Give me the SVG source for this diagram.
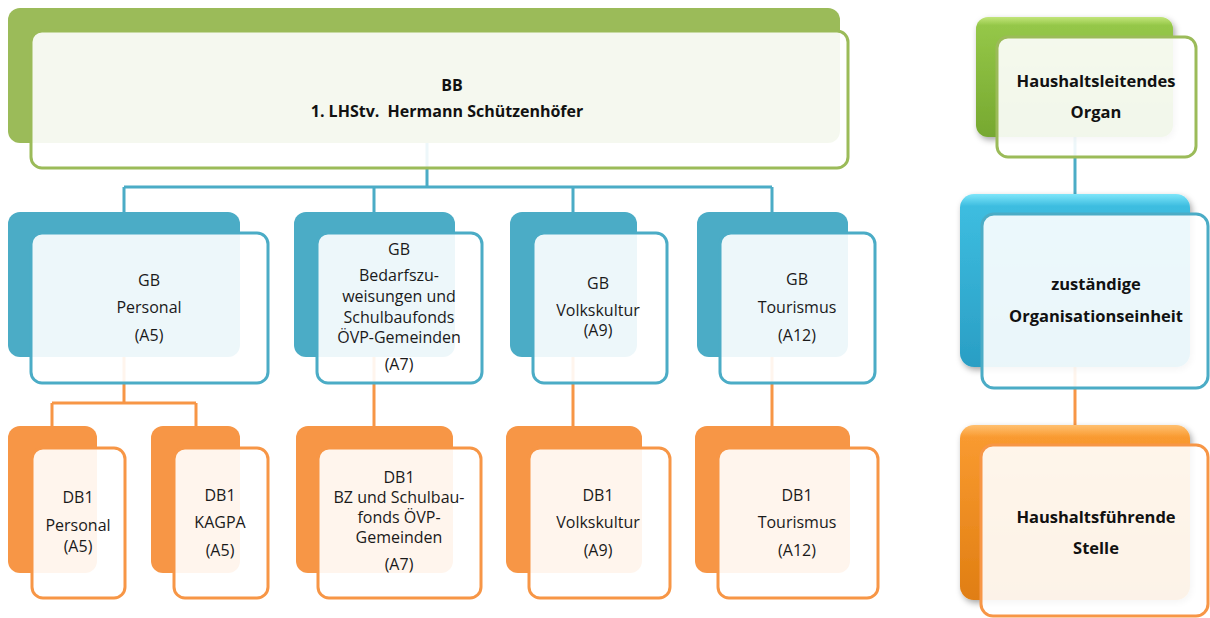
<svg xmlns="http://www.w3.org/2000/svg" width="1210" height="618" viewBox="0 0 1210 618">
<defs>
<style>
.t{font-family:"Open Sans","Liberation Sans",sans-serif;font-size:16px;fill:#1a1a1a;text-anchor:middle}
.b{font-family:"Open Sans","Liberation Sans",sans-serif;font-size:16px;font-weight:bold;fill:#111;text-anchor:middle}
.bL{font-size:16.5px}
.front{fill:#fff;fill-opacity:0.9;stroke-width:3}
.g{stroke:#9BBB59}.bl{stroke:#4BACC6}.o{stroke:#F79646}
.cb{stroke:#4BACC6;stroke-width:3;fill:none}
.co{stroke:#F79646;stroke-width:3;fill:none}
</style>
<linearGradient id="lg" x1="0" y1="0" x2="0" y2="1">
<stop offset="0" stop-color="#C2E57A"/><stop offset="0.07" stop-color="#95C748"/><stop offset="1" stop-color="#76A830"/>
</linearGradient>
<linearGradient id="lb" x1="0" y1="0" x2="0" y2="1">
<stop offset="0" stop-color="#7FE6FA"/><stop offset="0.07" stop-color="#3DBDE0"/><stop offset="1" stop-color="#2A9EC4"/>
</linearGradient>
<linearGradient id="lo" x1="0" y1="0" x2="0" y2="1">
<stop offset="0" stop-color="#FFC070"/><stop offset="0.07" stop-color="#F99A30"/><stop offset="1" stop-color="#E07E12"/>
</linearGradient>
<filter id="sh" x="-10%" y="-10%" width="125%" height="125%">
<feDropShadow dx="2" dy="3" stdDeviation="3" flood-color="#000" flood-opacity="0.35"/>
</filter>
</defs>

<g id="connectors">
<path class="cb" d="M427 143V187M124 187H772M124 187V212M374 187V212M573 187V212M772 187V212"/>
<path class="co" d="M124 357V403M52 403H196M52 403V426M196 403V426"/>
<path class="co" d="M374 357V426M573 357V426M772 357V426"/>
<path class="cb" d="M1075 137V194"/>
<path class="co" d="M1075 367V425"/>
</g>

<g id="bb">
<rect x="8" y="8" width="832" height="135" rx="12" fill="#9BBB59"/>
<rect class="front g" x="31" y="31" width="817" height="137" rx="11"/>
<text class="b" x="452" y="91">BB</text>
<text class="b" x="447" y="117" xml:space="preserve">1. LHStv.  Hermann Schützenhöfer</text>
</g>

<g id="gb-personal">
<rect x="8" y="212" width="232" height="145" rx="12" fill="#4BACC6"/>
<rect class="front bl" x="31" y="233" width="237" height="150" rx="11"/>
<text class="t" x="149" y="286">GB</text>
<text class="t" x="149" y="313">Personal</text>
<text class="t" x="149" y="341">(A5)</text>
</g>

<g id="gb-bedarf">
<rect x="294" y="212" width="161" height="145" rx="12" fill="#4BACC6"/>
<rect class="front bl" x="317" y="233" width="165" height="150" rx="11"/>
<text class="t" x="399" y="255">GB</text>
<text class="t" x="399" y="281">Bedarfszu-</text>
<text class="t" x="399" y="302">weisungen und</text>
<text class="t" x="399" y="323">Schulbaufonds</text>
<text class="t" x="399" y="343">ÖVP-Gemeinden</text>
<text class="t" x="399" y="370">(A7)</text>
</g>

<g id="gb-volkskultur">
<rect x="510" y="212" width="127" height="145" rx="12" fill="#4BACC6"/>
<rect class="front bl" x="533" y="233" width="134" height="150" rx="11"/>
<text class="t" x="598" y="289">GB</text>
<text class="t" x="598" y="316">Volkskultur</text>
<text class="t" x="598" y="336">(A9)</text>
</g>

<g id="gb-tourismus">
<rect x="697" y="212" width="151" height="145" rx="12" fill="#4BACC6"/>
<rect class="front bl" x="720" y="233" width="155" height="150" rx="11"/>
<text class="t" x="797" y="285">GB</text>
<text class="t" x="797" y="313">Tourismus</text>
<text class="t" x="797" y="341">(A12)</text>
</g>

<g id="db-personal">
<rect x="8" y="426" width="89" height="147" rx="12" fill="#F79646"/>
<rect class="front o" x="32" y="448" width="93" height="150" rx="11"/>
<text class="t" x="78" y="503">DB1</text>
<text class="t" x="78" y="531">Personal</text>
<text class="t" x="78" y="552">(A5)</text>
</g>

<g id="db-kagpa">
<rect x="151" y="426" width="89" height="147" rx="12" fill="#F79646"/>
<rect class="front o" x="174" y="448" width="94" height="150" rx="11"/>
<text class="t" x="220" y="501">DB1</text>
<text class="t" x="220" y="528">KAGPA</text>
<text class="t" x="220" y="556">(A5)</text>
</g>

<g id="db-bz">
<rect x="296" y="426" width="157" height="147" rx="12" fill="#F79646"/>
<rect class="front o" x="318" y="448" width="163" height="150" rx="11"/>
<text class="t" x="399" y="483">DB1</text>
<text class="t" x="399" y="503">BZ und Schulbau-</text>
<text class="t" x="399" y="523">fonds ÖVP-</text>
<text class="t" x="399" y="543">Gemeinden</text>
<text class="t" x="399" y="570">(A7)</text>
</g>

<g id="db-volkskultur">
<rect x="506" y="426" width="136" height="147" rx="12" fill="#F79646"/>
<rect class="front o" x="529" y="448" width="141" height="150" rx="11"/>
<text class="t" x="598" y="501">DB1</text>
<text class="t" x="598" y="528">Volkskultur</text>
<text class="t" x="598" y="556">(A9)</text>
</g>

<g id="db-tourismus">
<rect x="695" y="426" width="155" height="147" rx="12" fill="#F79646"/>
<rect class="front o" x="718" y="448" width="160" height="150" rx="11"/>
<text class="t" x="797" y="501">DB1</text>
<text class="t" x="797" y="528">Tourismus</text>
<text class="t" x="797" y="556">(A12)</text>
</g>

<g id="legend-haushaltsleitend">
<rect x="976" y="17" width="197" height="120" rx="12" fill="url(#lg)" filter="url(#sh)"/>
<rect class="front g" x="997" y="37" width="199" height="120" rx="11"/>
<text class="b bL" x="1096" y="87">Haushaltsleitendes</text>
<text class="b bL" x="1096" y="118">Organ</text>
</g>

<g id="legend-zustaendig">
<rect x="960" y="194" width="230" height="173" rx="14" fill="url(#lb)" filter="url(#sh)"/>
<rect class="front bl" x="982" y="214" width="226" height="174" rx="12"/>
<text class="b bL" x="1096" y="290">zuständige</text>
<text class="b bL" x="1096" y="322">Organisationseinheit</text>
</g>

<g id="legend-haushaltsfuehrend">
<rect x="960" y="425" width="230" height="175" rx="14" fill="url(#lo)" filter="url(#sh)"/>
<rect class="front o" x="981" y="445" width="227" height="171" rx="12"/>
<text class="b bL" x="1096" y="523">Haushaltsführende</text>
<text class="b bL" x="1096" y="554">Stelle</text>
</g>
</svg>
